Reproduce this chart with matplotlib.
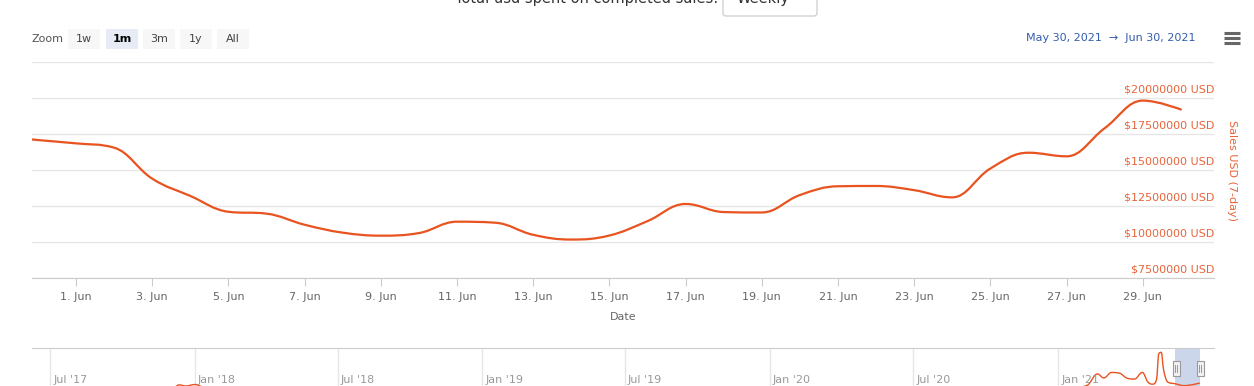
"""7-day sales chart (Highstock look) redrawn with matplotlib."""

import datetime as dt

import matplotlib

matplotlib.use("Agg")
import matplotlib.dates as mdates
import matplotlib.pyplot as plt
import matplotlib.transforms as mtransforms
import pandas as pd
from matplotlib.patches import PathPatch, Rectangle, FancyBboxPatch
from matplotlib.path import Path

# ---- data ---------------------------------------------------------------
days = pd.date_range("2021-05-30", "2021-06-30", freq="D")
sales_musd = [
    17.35, 17.08, 16.85, 16.55, 14.40, 13.20, 12.10, 11.97, 11.20, 10.65,
    10.44, 10.62, 11.41, 11.34, 10.50, 10.17, 10.45, 11.45, 12.64, 12.08,
    12.05, 13.26, 13.87, 13.89, 13.60, 13.10, 15.10, 16.20, 15.95, 17.90,
    19.82, 19.20,
]

y_ticks = [7.5, 10.0, 12.5, 15.0, 17.5, 20.0, 22.5]
x_tick_days = pd.date_range("2021-06-01", "2021-06-29", freq="2D")

# navigator (whole history, weekly sales in M USD, rough reading)
nav_dates = pd.to_datetime([
    "2017-06-01", "2017-09-01", "2017-11-20", "2017-12-05", "2017-12-12",
    "2017-12-20", "2018-01-01", "2018-01-12", "2018-02-10", "2018-06-01",
    "2019-01-01", "2019-07-01", "2020-01-01", "2020-07-01", "2020-11-01",
    "2021-01-01", "2021-01-20", "2021-02-08", "2021-02-20", "2021-02-28",
    "2021-03-10", "2021-03-20", "2021-03-30", "2021-04-08", "2021-04-18",
    "2021-04-25", "2021-05-01", "2021-05-06", "2021-05-09", "2021-05-12",
    "2021-05-15", "2021-05-20", "2021-05-30", "2021-06-10", "2021-06-30",
])
nav_values = [
    0.5, 1.0, 2.0, 6.0, 14.0,
    11.0, 15.0, 8.0, 3.0, 1.5,
    1.0, 1.0, 1.0, 1.0, 1.5,
    3.0, 6.0, 14.0, 44.0, 33.0,
    48.0, 46.0, 32.0, 30.0, 48.0,
    22.0, 16.0, 28.0, 100.0, 103.0,
    55.0, 22.0, 17.0, 12.0, 19.0,
]
nav_labels = ["Jul '17", "Jan '18", "Jul '18", "Jan '19",
              "Jul '19", "Jan '20", "Jul '20", "Jan '21"]
nav_label_dates = pd.to_datetime(["2017-07-01", "2018-01-01", "2018-07-01", "2019-01-01",
                                  "2019-07-01", "2020-01-01", "2020-07-01", "2021-01-01"])

# ---- style --------------------------------------------------------------
ORANGE = "#e8531f"
LABEL_ORANGE = "#e8643a"
GRID = "#e6e6e6"
AXIS = "#cccccc"
TEXT = "#666666"
W, H = 1254, 386


def spline_path(xs, ys):
    """Highcharts-style spline through the points (cubic bezier segments)."""
    n = len(xs)
    lc, rc = [None] * n, [None] * n
    for i in range(1, n - 1):
        x, y = xs[i], ys[i]
        lx, ly = xs[i - 1], ys[i - 1]
        nx, ny = xs[i + 1], ys[i + 1]
        lcx, lcy = (1.5 * x + lx) / 2.5, (1.5 * y + ly) / 2.5
        rcx, rcy = (1.5 * x + nx) / 2.5, (1.5 * y + ny) / 2.5
        corr = (rcy - lcy) * (rcx - x) / (rcx - lcx) + y - rcy
        lcy += corr
        rcy += corr
        if lcy > max(ly, y):
            lcy = max(ly, y); rcy = 2 * y - lcy
        elif lcy < min(ly, y):
            lcy = min(ly, y); rcy = 2 * y - lcy
        if rcy > max(ny, y):
            rcy = max(ny, y); lcy = 2 * y - rcy
        elif rcy < min(ny, y):
            rcy = min(ny, y); lcy = 2 * y - rcy
        lc[i], rc[i] = (lcx, lcy), (rcx, rcy)
    verts, codes = [(xs[0], ys[0])], [Path.MOVETO]
    for i in range(1, n):
        verts += [rc[i - 1] or (xs[i - 1], ys[i - 1]), lc[i] or (xs[i], ys[i]), (xs[i], ys[i])]
        codes += [Path.CURVE4] * 3
    return Path(verts, codes)


def px_axes(fig, left, top, right, bottom):
    return fig.add_axes([left / W, (H - bottom) / H, (right - left) / W, (bottom - top) / H])


plt.rcParams["font.family"] = ["DejaVu Sans"]
fig = plt.figure(figsize=(W / 100, H / 100), dpi=100)

# ---- main chart -----------------------------------------------------------
ax = px_axes(fig, 32, 62, 1214, 278)
xnum = mdates.date2num(days)
ax.add_patch(PathPatch(spline_path(list(xnum), sales_musd), fill=False,
                       edgecolor=ORANGE, lw=1.6, capstyle="round", joinstyle="round", zorder=3))
jun1 = mdates.date2num(dt.datetime(2021, 6, 1))
ax.set_xlim(jun1 - 1.155, jun1 + 29.87)
ax.set_ylim(7.5, 22.5)
ax.set_yticks(y_ticks)
ax.yaxis.grid(True, color=GRID, lw=1)
ax.tick_params(axis="y", length=0, labelleft=False)
for s in ["top", "left", "right"]:
    ax.spines[s].set_visible(False)
ax.spines["bottom"].set_color(AXIS)
ax.set_xticks(mdates.date2num(x_tick_days))
ax.set_xticklabels([f"{d.day}. Jun" for d in x_tick_days])
ax.tick_params(axis="x", length=6, color=AXIS, labelsize=8, labelcolor=TEXT, pad=4)
ax.set_xlabel("Date", fontsize=8, color=TEXT, labelpad=7)

label_tf = ax.get_yaxis_transform() + mtransforms.ScaledTranslation(0, 3 / 100, fig.dpi_scale_trans)
for v in y_ticks[:-1]:
    ax.text(1.0, v, f"${int(v * 1e6)} USD", transform=label_tf, ha="right", va="bottom",
            fontsize=8, color=LABEL_ORANGE)
fig.text(1232 / W, (H - 170) / H, "Sales USD (7-day)", rotation=270, ha="center", va="center",
         fontsize=8, color=LABEL_ORANGE)

# ---- navigator ------------------------------------------------------------
nav = px_axes(fig, 32, 348, 1214, 390)
nx = mdates.date2num(nav_dates)
npath = spline_path(list(nx), nav_values)
nav.add_patch(PathPatch(npath, fill=False, edgecolor=ORANGE, lw=1.0, zorder=3))
nav.set_xlim(mdates.date2num(dt.datetime(2017, 6, 8)), mdates.date2num(dt.datetime(2021, 7, 18)))
nav.set_ylim(0, 115)
nav.set_xticks(mdates.date2num(nav_label_dates))
nav.xaxis.grid(True, color=GRID, lw=1)
nav.tick_params(length=0, labelbottom=False, labelleft=False)
for s in ["bottom", "left", "right"]:
    nav.spines[s].set_visible(False)
nav.spines["top"].set_color(AXIS)
nav_tf = nav.get_xaxis_transform() + mtransforms.ScaledTranslation(3 / 100, 0, fig.dpi_scale_trans)
for lab, d in zip(nav_labels, nav_label_dates):
    nav.text(mdates.date2num(d), (390 - 380) / 42, lab, transform=nav_tf, ha="left", va="center",
             fontsize=8, color="#999999")
m0 = mdates.date2num(dt.datetime(2021, 5, 30))
m1 = mdates.date2num(dt.datetime(2021, 6, 30))
nav.axvspan(m0, m1, color="#c3cfe8", alpha=0.85, lw=0, zorder=2)

# ---- overlay in pixel coordinates --------------------------------------------
ov = fig.add_axes([0, 0, 1, 1], zorder=5)
ov.set_xlim(0, W)
ov.set_ylim(H, 0)
ov.axis("off")
ov.patch.set_alpha(0)

# navigator handles
for hx in (1176, 1200):
    ov.add_patch(Rectangle((hx - 3.5, 361), 7, 15, facecolor="#f2f2f2", edgecolor="#999999", lw=0.8))
    ov.plot([hx - 1, hx - 1], [365, 372], color="#999999", lw=0.7)
    ov.plot([hx + 1, hx + 1], [365, 372], color="#999999", lw=0.7)

# range selector
ov.text(31, 39, "Zoom", fontsize=8, color="#555555", va="center", ha="left")
for lab, x0, sel in [("1w", 68, False), ("1m", 106, True), ("3m", 143, False),
                     ("1y", 180, False), ("All", 217, False)]:
    ov.add_patch(Rectangle((x0, 29), 32, 20, facecolor="#e6ebf5" if sel else "#f7f7f7",
                           edgecolor="none"))
    ov.text(x0 + 16, 39, lab, fontsize=8, color="#000000" if sel else "#444444",
            fontweight="bold" if sel else "normal", ha="center", va="center")
ov.text(1195, 38, "May 30, 2021  \u2192  Jun 30, 2021", fontsize=8, color="#335cad",
        ha="right", va="center")
for yy in (33, 38, 43):
    ov.plot([1224, 1240], [yy, yy], color="#666666", lw=2.2, solid_capstyle="butt")

# page title (cut off by the screenshot)
ov.text(587, 3, "Total usd spent on completed sales:", fontsize=10.5, color="#333333",
        ha="center", va="baseline")
ov.add_patch(FancyBboxPatch((723, -12), 94, 28, boxstyle="round,pad=0,rounding_size=3",
                            facecolor="white", edgecolor="#cccccc", lw=0.9))
ov.text(737, 3, "Weekly", fontsize=10.5, color="#333333", ha="left", va="baseline")

fig.savefig("out.png", dpi=100)
